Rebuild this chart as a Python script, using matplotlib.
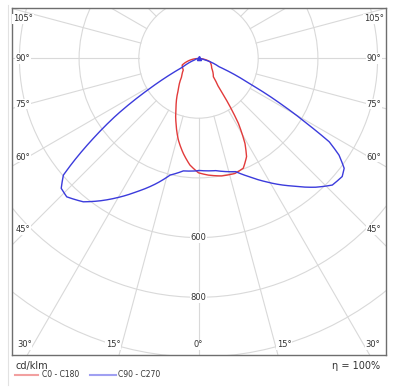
import numpy as np
import matplotlib
matplotlib.use("Agg")  # Non-interactive backend
import matplotlib.pyplot as plt
from matplotlib.lines import Line2D
from matplotlib.patches import Circle
from matplotlib.path import Path

# Figure geometry (pixels)
W, H = 400, 391
CX, CY = 198.5, 58.5          # pole of the diagram
BOX = (12, 8, 386, 355)        # left, top, right, bottom of the plot frame
S = 200 / 59.7                 # cd/klm per pixel

# Style
RED = "#e23b3b"
BLUE = "#3b3bdc"
GRID = "#d9d9d9"
FRAME = "#6e6e6e"
TEXT = "#333333"

# Luminous intensity (cd/klm), gamma in degrees
gamma_c0 = [0, 4.8, 11.2, 17.6, 22.2, 26.1, 28.7, 31.6, 33.6, 35.1, 39.1, 53.4, 74.4, 90]
i_c0 = [383, 392, 401, 404, 397, 366, 324, 255, 180, 116, 79, 55, 40, 0]

gamma_c180 = [0, 4.6, 9.1, 13.9, 19.1, 25, 32.7, 42.7, 52.9, 68.1, 74.8, 90]
i_c180 = [383, 358, 322, 281, 230, 178, 125, 83, 64, 59, 41, 0]

gamma_c90 = [0, 8.7, 18.2, 23.1, 28.6, 36.3, 42.3, 46.6, 50.6, 53, 55.5, 57.5,
             58.9, 61, 63.8, 68.2, 78, 90]
i_c90 = [375, 380, 399, 430, 470, 530, 583, 617, 623, 611, 571, 519,
         432, 321, 189, 74, 20, 0]

gamma_c270 = [0, 7.7, 13.7, 18.5, 24.9, 30.4, 34.7, 38.8, 43.6, 46.6, 49.2, 50.5,
              52.8, 55.4, 58.4, 61.7, 70, 90]
i_c270 = [376, 380, 402, 441, 492, 541, 580, 616, 640, 633, 598, 543,
          442, 333, 191, 58, 13, 0]

rings = [200, 400, 600, 800, 1000, 1200]
ring_labels = [600, 800]
side_angles = [105, 90, 75, 60, 45]
bottom_angles = [30, 15]


def plane_xy(g_right, i_right, g_left, i_left):
    # (gamma, I) pairs, left half mirrored; gamma 0 points straight down
    g = np.r_[-np.asarray(g_left, dtype=float)[::-1], np.asarray(g_right, dtype=float)]
    v = np.r_[np.asarray(i_left, dtype=float)[::-1], np.asarray(i_right, dtype=float)]
    # let matplotlib subdivide the polar segments, then map to x/y
    verts = Path(np.column_stack([g, v])).interpolated(20).vertices
    gr = np.radians(verts[:, 0])
    return verts[:, 1] * np.sin(gr), -verts[:, 1] * np.cos(gr)


def px(x, y):
    return (x - CX) * S, (CY - y) * S


fig = plt.figure(figsize=(W / 100, H / 100), dpi=100)
l, t, r, b = BOX
ax = fig.add_axes([l / W, 1 - b / H, (r - l) / W, (b - t) / H])
x0, y1 = px(l, t)
x1, y0 = px(r, b)
ax.set_xlim(x0, x1)
ax.set_ylim(y0, y1)
ax.set_xticks([])
ax.set_yticks([])
for spine in ax.spines.values():
    spine.set_color(FRAME)
    spine.set_linewidth(1.0)

# Grid: rings and radial lines every 15 degrees
for rv in rings:
    ax.add_patch(Circle((0, 0), rv, fill=False, ec=GRID, lw=0.8, zorder=1))
for a in range(0, 360, 15):
    g = np.radians(a)
    ax.plot([200 * np.sin(g), 1500 * np.sin(g)], [-200 * np.cos(g), -1500 * np.cos(g)],
            color=GRID, lw=0.8, zorder=1)

# Curves
xr, yr = plane_xy(gamma_c0, i_c0, gamma_c180, i_c180)
ax.plot(xr, yr, color=RED, lw=1.0, zorder=3)
xb, yb = plane_xy(gamma_c90, i_c90, gamma_c270, i_c270)
ax.plot(xb, yb, color=BLUE, lw=1.0, zorder=3)
ax.plot(0, 0, marker="^", ms=3, color=BLUE, zorder=4)

# Intensity labels
for v in ring_labels:
    ax.text(0, -v, str(v), fontsize=6, color=TEXT, ha="center", va="center", zorder=5,
            bbox=dict(facecolor="white", edgecolor="none", pad=0.6))

# Angle labels on the sides
lab_box = dict(facecolor="white", edgecolor="none", pad=0.5)
for a in side_angles:
    ypx = max(CY + 171 / np.tan(np.radians(a)), 19)
    for side in (-1, 1):
        x, y = px(CX + side * 175.5, ypx)
        ax.text(x, y, f"{a}°", fontsize=6, color=TEXT, ha="center", va="center",
                zorder=5, bbox=lab_box)

# Angle labels along the bottom
ybot = 345
for a in bottom_angles:
    d = (ybot - CY) * np.tan(np.radians(a))
    x, y = px(CX - d - 1.5, ybot)
    ax.text(x, y, f"{a}°", fontsize=6, color=TEXT, ha="right", va="center", zorder=5, bbox=lab_box)
    x, y = px(CX + d + 1.5, ybot)
    ax.text(x, y, f"{a}°", fontsize=6, color=TEXT, ha="left", va="center", zorder=5, bbox=lab_box)
x, y = px(CX, ybot)
ax.text(x, y, "0°", fontsize=6, color=TEXT, ha="center", va="center", zorder=5, bbox=lab_box)

# Footer: unit, legend, efficiency
fig.text(15 / W, 1 - 366.5 / H, "cd/klm", fontsize=7, color=TEXT, va="center")
yl = 1 - 374.5 / H
fig.add_artist(Line2D([15 / W, 38 / W], [yl, yl], color="#f2a0a0", lw=1.5))
fig.text(42 / W, yl, "C0 - C180", fontsize=5.5, color=TEXT, va="center")
fig.add_artist(Line2D([90 / W, 116 / W], [yl, yl], color="#a0a0f2", lw=1.5))
fig.text(118 / W, yl, "C90 - C270", fontsize=5.5, color=TEXT, va="center")
fig.text(380 / W, 1 - 366 / H, "η = 100%", fontsize=7, color=TEXT, ha="right", va="center")

# Faint outer frame line on the left
fig.add_artist(Line2D([8 / W, 8 / W], [1 - 5 / H, 1 - 385 / H], color="#e2e2e2", lw=0.8))

fig.savefig("out.png", dpi=100)
plt.close(fig)
